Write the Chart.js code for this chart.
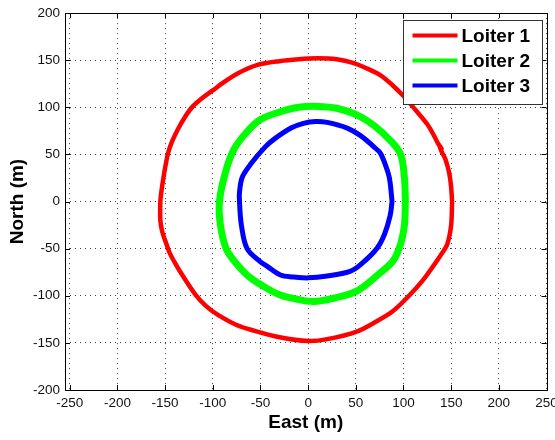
<!DOCTYPE html>
<html>
<head>
<meta charset="utf-8">
<script src="https://cdn.jsdelivr.net/npm/chart.js@4.4.0/dist/chart.umd.min.js"></script>
<style>
  html, body { margin: 0; padding: 0; background: #fff; }
</style>
</head>
<body>
<canvas id="loiterChart" width="555" height="440"></canvas>
<script>
// tick labels
const xTicks = [-250, -200, -150, -100, -50, 0, 50, 100, 150, 200, 250];
const yTicks = [-200, -150, -100, -50, 0, 50, 100, 150, 200];

// series labels and colours
const seriesNames = ['Loiter 1', 'Loiter 2', 'Loiter 3'];
const seriesColors = ['#ff0000', '#00ff00', '#0000ff'];

// Loiter 1 track (m)
const loiter1East = [151, 150, 148, 144, 140, 138, 140, 136, 132, 125, 112, 100, 88, 76, 60, 48, 30, 10, -10, -30, -53, -74, -88, -100, -111, -121, -129, -137, -143, -147, -151, -154, -155, -155, -153, -149, -145, -138, -132, -118, -107, -95, -75, -57, -30, 0, 20, 51, 72, 88, 102, 120, 139, 146, 150, 151];
const loiter1North = [0, 15, 30, 45, 53, 59, 56, 62, 70, 82, 98, 112, 124, 134, 142, 147, 151, 152, 151, 149, 145, 136, 127, 118, 110, 101, 90, 76, 63, 51, 30, 10, 0, -20, -32, -44, -55, -68, -78, -99, -111, -120, -131, -137, -144, -148, -146, -138, -127, -117, -104, -84, -57, -45, -25, 0];

// Loiter 2 track (m)
const loiter2East = [102, 101, 97, 86, 70, 51, 30, 10, -10, -30, -50, -65, -78, -87, -93, -92, -86, -76, -64, -50, -30, -10, 6, 25, 51, 74, 89, 97, 101, 102];
const loiter2North = [0, 25, 50, 65, 80, 92, 99, 101, 100, 95, 87, 73, 55, 30, 0, -25, -50, -65, -78, -88, -99, -104, -106, -103, -95, -77, -63, -45, -25, 0];

// Loiter 3 track (m)
const loiter3East = [88, 86, 84, 76, 69, 55, 41, 20, 8, -5, -18, -36, -45, -60, -69, -72, -72, -70, -64, -50, -44, -29, -15, 0, 20, 44, 55, 72, 80, 86, 88];
const loiter3North = [0, 20, 30, 51, 58, 70, 78, 84, 85, 83, 78, 66, 58, 40, 26, 10, 0, -25, -50, -64, -68, -78, -80, -81, -79, -74, -67, -50, -35, -15, 0];

const fontFamily = "Arial, 'Liberation Sans', sans-serif";

function toPoints(east, north) {
    return east.map((e, i) => ({x: e, y: north[i]}));
}

// box round the plot with MATLAB style inward ticks, and the legend inside the plot
const frameAndLegend = {
    id: 'frameAndLegend',
    beforeDatasetsDraw(chart) {
        const {ctx, chartArea: a, scales: {x, y}} = chart;
        ctx.save();
        ctx.strokeStyle = '#000';
        ctx.lineWidth = 1;
        ctx.beginPath();
        xTicks.forEach(v => {
            const px = Math.round(x.getPixelForValue(v)) + 0.5;
            ctx.moveTo(px, a.bottom); ctx.lineTo(px, a.bottom - 5);
            ctx.moveTo(px, a.top); ctx.lineTo(px, a.top + 5);
        });
        yTicks.forEach(v => {
            const py = Math.round(y.getPixelForValue(v)) + 0.5;
            ctx.moveTo(a.left, py); ctx.lineTo(a.left + 5, py);
            ctx.moveTo(a.right, py); ctx.lineTo(a.right - 5, py);
        });
        ctx.stroke();
        ctx.strokeRect(Math.round(a.left) + 0.5, Math.round(a.top) + 0.5,
            Math.round(a.right) - Math.round(a.left), Math.round(a.bottom) - Math.round(a.top));
        ctx.restore();
    },
    afterDatasetsDraw(chart) {
        const {ctx, chartArea: a} = chart;
        const w = 139, h = 84;
        const left = Math.round(a.right - 5 - w) + 0.5;
        const top = Math.round(a.top + 7) + 0.5;
        ctx.save();
        ctx.fillStyle = '#fff';
        ctx.fillRect(left, top, w, h);
        ctx.strokeStyle = '#333';
        ctx.lineWidth = 1;
        ctx.strokeRect(left, top, w, h);
        ctx.font = 'bold 19px ' + fontFamily;
        ctx.textBaseline = 'middle';
        ctx.textAlign = 'left';
        chart.data.datasets.forEach((ds, i) => {
            const cy = top + 15 + i * 25;
            ctx.strokeStyle = ds.borderColor;
            ctx.lineWidth = 4;
            ctx.beginPath();
            ctx.moveTo(left + 9, cy);
            ctx.lineTo(left + 54, cy);
            ctx.stroke();
            ctx.fillStyle = '#000';
            ctx.fillText(ds.label, left + 58, cy + 1);
        });
        ctx.restore();
    }
};

const lineWidths = [4.5, 7, 5];
const lineTension = [0.3, 0.35, 0.35];
const tracks = [
    toPoints(loiter1East, loiter1North),
    toPoints(loiter2East, loiter2North),
    toPoints(loiter3East, loiter3North)
];

new Chart(document.getElementById('loiterChart'), {
    type: 'scatter',
    data: {
        datasets: tracks.map((pts, i) => ({
            label: seriesNames[i],
            data: pts,
            showLine: true,
            borderColor: seriesColors[i],
            backgroundColor: seriesColors[i],
            borderWidth: lineWidths[i],
            borderJoinStyle: 'round',
            borderCapStyle: 'round',
            pointRadius: 0,
            tension: lineTension[i]
        }))
    },
    options: {
        responsive: false,
        animation: false,
        devicePixelRatio: 1,
        layout: {padding: {left: 0, top: 9, right: 8.5, bottom: 0}},
        plugins: {
            legend: {display: false},
            tooltip: {enabled: false}
        },
        scales: {
            x: {
                type: 'linear',
                min: -255,
                max: 250,
                afterBuildTicks: s => { s.ticks = xTicks.map(v => ({value: v})); },
                afterFit: s => { s.height = 50; s.paddingLeft = 0; s.paddingRight = 0; },
                grid: {color: 'rgba(0,0,0,0.75)', lineWidth: 1, drawTicks: false},
                border: {display: false, dash: [1, 4]},
                ticks: {
                    padding: 5,
                    maxRotation: 0,
                    autoSkip: false,
                    color: '#111',
                    font: {family: fontFamily, size: 13.5}
                },
                title: {
                    display: true,
                    text: 'East (m)',
                    color: '#000',
                    font: {family: fontFamily, size: 19, weight: 'bold'},
                    padding: {top: 4, bottom: 6}
                }
            },
            y: {
                type: 'linear',
                min: -200,
                max: 200,
                afterBuildTicks: s => { s.ticks = yTicks.map(v => ({value: v})); },
                afterFit: s => { s.width = 65; },
                grid: {color: 'rgba(0,0,0,0.75)', lineWidth: 1, drawTicks: false},
                border: {display: false, dash: [1, 4]},
                ticks: {
                    padding: 5,
                    autoSkip: false,
                    color: '#111',
                    font: {family: fontFamily, size: 13.5}
                },
                title: {
                    display: true,
                    text: 'North (m)',
                    color: '#000',
                    font: {family: fontFamily, size: 19, weight: 'bold'},
                    padding: {top: 6, bottom: 4}
                }
            }
        }
    },
    plugins: [frameAndLegend]
});
</script>
</body>
</html>
